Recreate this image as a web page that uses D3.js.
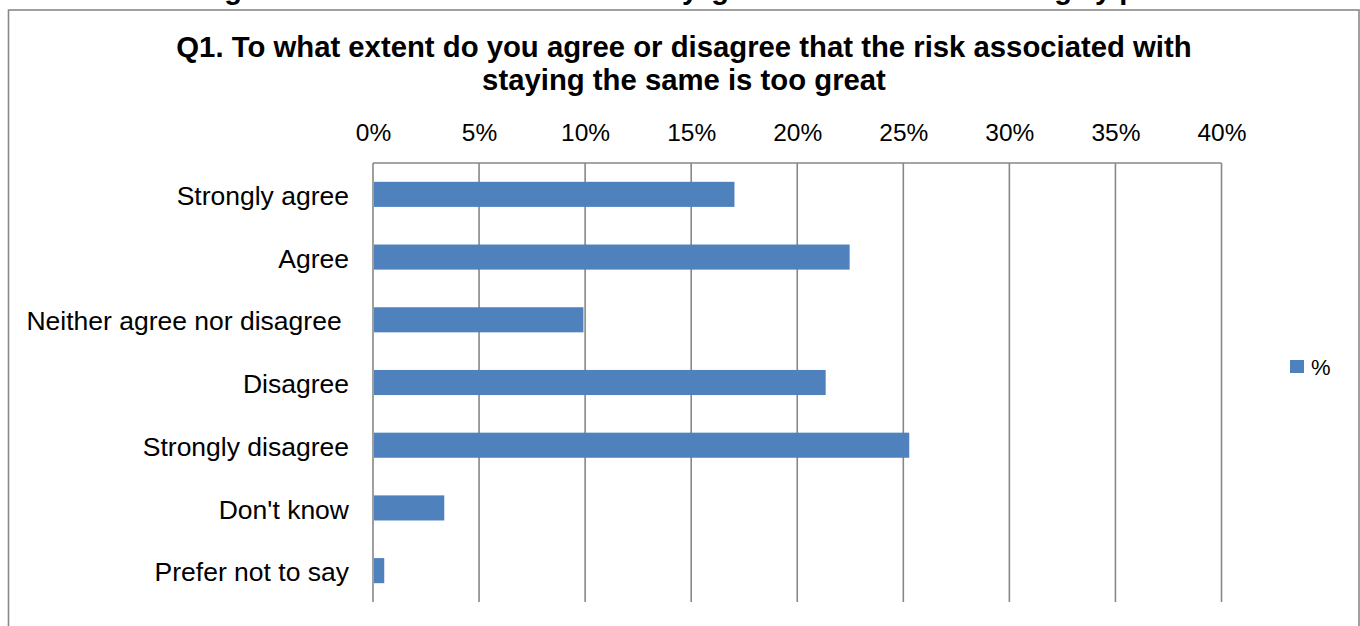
<!DOCTYPE html>
<html><head><meta charset="utf-8">
<script src="https://cdn.jsdelivr.net/npm/d3@7"></script>
<style>
html,body{margin:0;padding:0;background:#fff;overflow:hidden}
svg{display:block;font-family:"Liberation Sans",Arial,sans-serif}
</style></head>
<body>
<script>
const categories = ["Strongly agree","Agree","Neither agree nor disagree ","Disagree","Strongly disagree","Don't know","Prefer not to say"];
const values = [17.04, 22.47, 9.92, 21.34, 25.28, 3.36, 0.53];
const tickValues = [0,5,10,15,20,25,30,35,40];
const titleLines = ["Q1. To what extent do you agree or disagree that the risk associated with","staying the same is too great"];
const seriesName = "%";
const cutHeadingGlyphs = [{c:"g",x:233},{c:"y",x:690},{c:"g",x:720},{c:"g",x:1063},{c:"y",x:1103},{c:"p",x:1128}];

const W=1360,H=626;
const svg=d3.select("body").append("svg").attr("width",W).attr("height",H);

// cut-off heading above the chart (only descenders visible, as in the reference)
svg.append("g").selectAll("text").data(cutHeadingGlyphs).join("text")
  .attr("x",d=>d.x).attr("y",-1).attr("text-anchor","middle")
  .attr("font-size",29).attr("font-weight","bold").attr("fill","#000").text(d=>d.c);

// chart border
svg.append("rect").attr("x",8.5).attr("y",10).attr("width",1350.5).attr("height",640)
  .attr("fill","#fff").attr("stroke","#898989").attr("stroke-width",1.6);

// title
svg.append("g").selectAll("text").data(titleLines).join("text")
  .attr("x",684).attr("y",(d,i)=>57+i*33).attr("text-anchor","middle")
  .attr("font-size",29.3).attr("font-weight","bold").attr("fill","#000").text(d=>d);

const x=d3.scaleLinear().domain([0,40]).range([373,1221.5]);
const y=d3.scaleBand().domain(categories).range([163,602]).paddingInner(0.6).paddingOuter(0.3);

// grid lines
svg.append("g").selectAll("line").data(tickValues).join("line")
  .attr("x1",d=>x(d)).attr("x2",d=>x(d)).attr("y1",163).attr("y2",602)
  .attr("stroke","#878787").attr("stroke-width",1.6);
svg.append("line").attr("x1",x(0)).attr("x2",x(40)).attr("y1",163).attr("y2",163)
  .attr("stroke","#878787").attr("stroke-width",1.6);

// top axis labels
const ax=svg.append("g").attr("transform","translate(0,163)")
  .call(d3.axisTop(x).tickValues(tickValues).tickFormat(d=>d+"%").tickSize(0).tickPadding(22));
ax.select(".domain").remove();
ax.selectAll("text").attr("font-size",24.5).attr("fill","#000").attr("font-family","Liberation Sans, Arial, sans-serif");

// bars
svg.append("g").selectAll("rect").data(values).join("rect")
  .attr("x",x(0)+1).attr("y",(d,i)=>y(categories[i]))
  .attr("width",d=>x(d)-x(0)-1).attr("height",y.bandwidth())
  .attr("fill","#4F81BD");

// category labels
const ay=svg.append("g").attr("transform","translate(373,0)")
  .call(d3.axisLeft(y).tickSize(0).tickPadding(24));
ay.select(".domain").remove();
ay.selectAll("text").attr("font-size",26.5).attr("fill","#000").style("white-space","pre")
  .attr("dy","0.4em")
  .attr("font-family","Liberation Sans, Arial, sans-serif");

// legend
const lg=svg.append("g").attr("transform","translate(1290,360)");
lg.append("rect").attr("width",14).attr("height",13).attr("fill","#4F81BD");
lg.append("text").attr("x",21).attr("y",15).attr("font-size",22).attr("fill","#000").text(seriesName);
</script>
</body></html>
